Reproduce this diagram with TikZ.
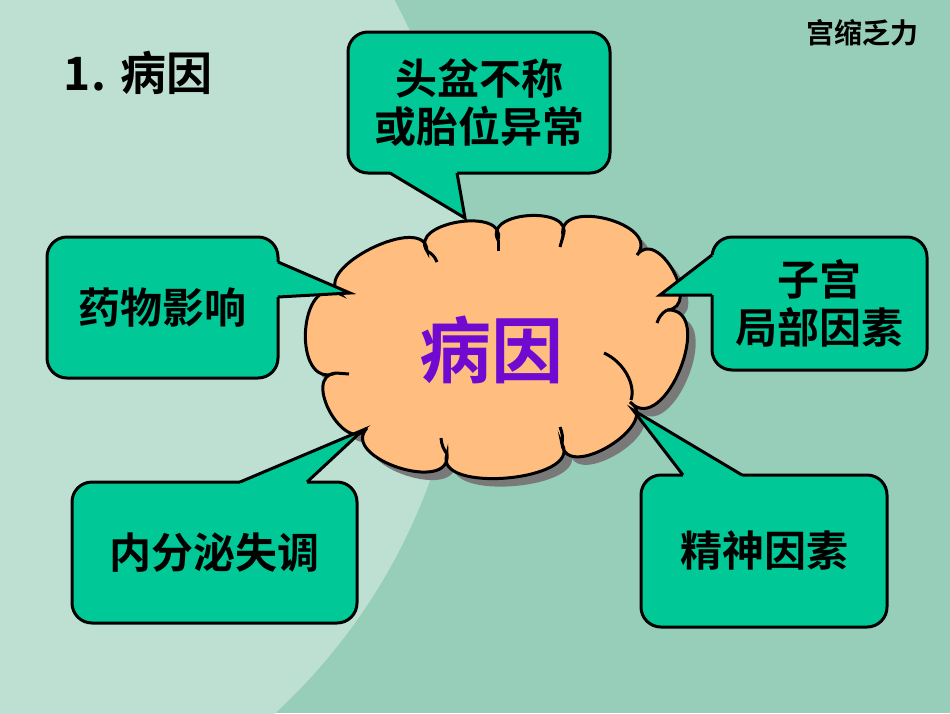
\documentclass[tikz,border=0pt]{standalone}
\usepackage{fontspec}
\newfontfamily\cjk{Noto Sans CJK SC}[BoldFont={Noto Sans CJK SC Bold}]
\usetikzlibrary{calc}

\definecolor{bgdark}{RGB}{150,206,185}
\definecolor{bglight}{RGB}{190,224,211}
\definecolor{boxgreen}{RGB}{0,201,151}
\definecolor{cloudorange}{RGB}{255,190,128}
\definecolor{causepurple}{RGB}{112,10,208}

\tikzset{
  causebox/.style={draw=black, line width=3pt, fill=boxgreen, rounded corners=20pt,
    inner sep=0pt, align=center, font=\cjk\bfseries\fontsize{42}{48}\selectfont},
  pointer/.style={draw=black, line width=3pt},
  cloudline/.style={draw=black, line width=3pt, fill=cloudorange},
  hook/.style={draw=black, line width=3pt},
  puff/.style={bend left=115, looseness=#1},
  titletext/.style={font=\cjk\bfseries\fontsize{46}{52}\selectfont},
  tagtext/.style={font=\cjk\bfseries\fontsize{28}{32}\selectfont},
  centertext/.style={font=\cjk\bfseries\fontsize{72}{80}\selectfont, text=causepurple}
}

% outline of the cloud, puff by puff
\newcommand\cloudpath{(340,294) to[puff=1.05] (427,251)
  to[puff=1.25] (498,240)
  to[puff=1.3] (563,236)
  to[puff=1.35] (637,255)
  to[puff=1.45] (667,310)
  to[puff=1.3] (630,402)
  to[puff=1.25] (562,444)
  to[puff=0.95] (447,454)
  to[puff=1.25] (367,428)
  to[puff=1.45] (336,373)
  to[puff=1.55] cycle}

\begin{document}
\begin{tikzpicture}[x=1pt,y=-1pt]
  \useasboundingbox (0,0) rectangle (950,713);

  % background
  \fill[bgdark] (0,0) rectangle (950,713);
  \begin{scope}
    \clip (0,0) rectangle (950,713);
    \fill[bglight] (-124,280) circle (589pt);
  \end{scope}

  % titles
  \node[titletext] (title) at (138,73) {1.\hspace{14pt}病因};
  \node[tagtext] (tag) at (862,33) {宫缩乏力};

  % cloud with its shadow
  \fill[gray!95!black, shift={(8,8)}] \cloudpath;
  \path[cloudline] \cloudpath;
  \draw[hook] (427,251) to[bend left=20] (437,262);
  \draw[hook] (498,240) -- (498,251);
  \draw[hook] (563,236) -- (560,247);
  \draw[hook] (667,310) to[bend right=20] (657,323);
  \draw[hook] (604,353) .. controls (624,362) and (636,385) .. (631,400);
  \draw[hook] (562,444) to[bend right=15] (560,427);
  \draw[hook] (447,454) to[bend left=15] (441,438);
  \draw[hook] (336,373) -- (349,374);

  % causes
  \node[causebox, minimum width=262pt, minimum height=141pt] (pelvis) at (479,102.5) {头盆不称\\或胎位异常};
  \node[causebox, minimum width=231pt, minimum height=141pt] (drug) at (162.5,307.5) {药物影响};
  \node[causebox, minimum width=215pt, minimum height=133pt] (uterus) at (819.5,303.5) {子宫\\局部因素};
  \node[causebox, minimum width=285pt, minimum height=141pt] (endocrine) at (214.5,552.5) {内分泌失调};
  \node[causebox, minimum width=246pt, minimum height=152pt] (mental) at (764,551) {精神因素};

  % pointer bases and tips
  \coordinate (pelvis-l) at (390,173);
  \coordinate (pelvis-t) at (465,218);
  \coordinate (pelvis-r) at (457,173);
  \coordinate (drug-l) at (278,262);
  \coordinate (drug-t) at (350,293);
  \coordinate (drug-r) at (278,297);
  \coordinate (uterus-l) at (712,255);
  \coordinate (uterus-t) at (660,295);
  \coordinate (uterus-r) at (712,295);
  \coordinate (endocrine-l) at (240,482);
  \coordinate (endocrine-t) at (363,430);
  \coordinate (endocrine-r) at (307,482);
  \coordinate (mental-l) at (683,475);
  \coordinate (mental-t) at (633,410);
  \coordinate (mental-r) at (742,475);

  \foreach \b/\dx/\dy in {pelvis/0/-5, drug/-5/0, uterus/5/0, endocrine/0/5, mental/0/5}{
    \fill[boxgreen] ($(\b-l)+(\dx,\dy)$) -- (\b-l) -- (\b-t) -- (\b-r) -- ($(\b-r)+(\dx,\dy)$) -- cycle;
    \draw[pointer] (\b-l) -- (\b-t) -- (\b-r);
  }

  \node[centertext] (cause) at (491,350) {病因};
\end{tikzpicture}
\end{document}
